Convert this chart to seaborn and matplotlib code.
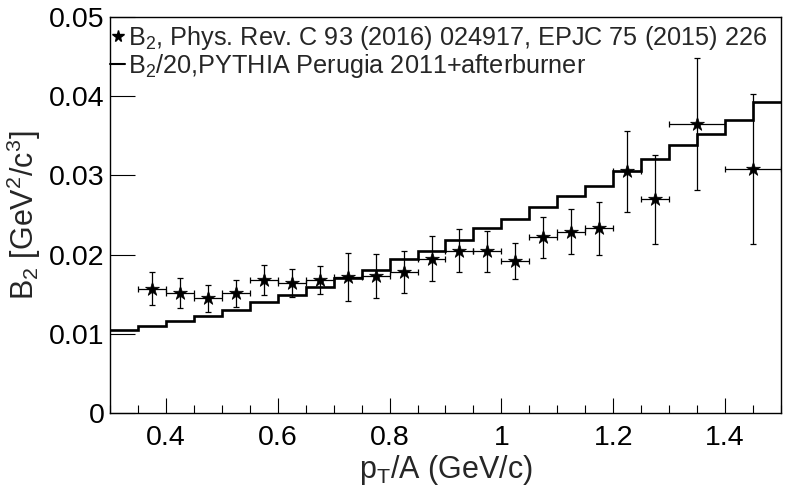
import numpy as np
import matplotlib
matplotlib.use("Agg")
import matplotlib.pyplot as plt
import seaborn as sns
from matplotlib.lines import Line2D
from matplotlib.ticker import MultipleLocator, FuncFormatter

# measured B2 (points)
pt_data = [0.375, 0.425, 0.475, 0.525, 0.575, 0.625, 0.675, 0.725, 0.775, 0.825,
           0.875, 0.925, 0.975, 1.025, 1.075, 1.125, 1.175, 1.225, 1.275, 1.35, 1.45]
pt_halfwidth = [0.025] * 19 + [0.05, 0.05]
b2_data = [0.0157, 0.0152, 0.0145, 0.0151, 0.0168, 0.0164, 0.0168, 0.0172, 0.0173, 0.0178,
           0.0195, 0.0205, 0.0204, 0.0192, 0.0222, 0.0229, 0.0233, 0.0305, 0.0270, 0.0365, 0.0308]
b2_err = [0.0021, 0.0019, 0.0017, 0.0017, 0.0019, 0.0018, 0.0018, 0.0030, 0.0028, 0.0027,
          0.0028, 0.00275, 0.0026, 0.0023, 0.0026, 0.0028, 0.0034, 0.0051, 0.0056, 0.0083, 0.0095]

# PYTHIA histogram (B2/20)
bin_edges = np.round(np.arange(0.30, 1.5001, 0.05), 3)
b2_pythia = [0.0105, 0.0110, 0.0116, 0.0123, 0.0130, 0.0140, 0.0149, 0.0159, 0.0170, 0.0181,
             0.0194, 0.0205, 0.0218, 0.0233, 0.0245, 0.0260, 0.0274, 0.0287, 0.0305, 0.0321,
             0.0338, 0.0352, 0.0370, 0.0393]

sns.set_style("white")
plt.rcParams['font.family'] = ['Liberation Sans', 'DejaVu Sans']
plt.rcParams['mathtext.fontset'] = 'custom'
plt.rcParams['mathtext.rm'] = 'Liberation Sans'
plt.rcParams['mathtext.it'] = 'Liberation Sans:italic'
plt.rcParams['mathtext.default'] = 'regular'

fig = plt.figure(figsize=(7.88, 4.95), dpi=100)
ax = fig.add_axes([0.1396, 0.1657, 0.8515, 0.7998])

ax.stairs(b2_pythia, bin_edges, color='black', linewidth=1.9, baseline=None)

ax.errorbar(pt_data, b2_data, xerr=pt_halfwidth, yerr=b2_err, fmt='none',
            ecolor='black', elinewidth=0.9, capsize=2.2, capthick=0.9)
sns.scatterplot(x=pt_data, y=b2_data, marker='*', s=110, color='black',
                edgecolor='black', linewidth=0.5, ax=ax, zorder=5)

ax.set_xlim(0.3, 1.5)
ax.set_ylim(0, 0.05)
ax.xaxis.set_major_locator(MultipleLocator(0.2))
ax.xaxis.set_minor_locator(MultipleLocator(0.05))
ax.yaxis.set_major_locator(MultipleLocator(0.01))
ax.xaxis.set_major_formatter(FuncFormatter(lambda v, p: f"{v:g}"))
ax.yaxis.set_major_formatter(FuncFormatter(lambda v, p: f"{v:g}"))
ax.tick_params(axis='both', which='both', direction='in', bottom=True, left=True,
               top=False, right=False, labelsize=20.5, colors='black', width=0.8)
ax.tick_params(axis='x', which='major', length=11, pad=9)
ax.tick_params(axis='x', which='minor', length=6)
ax.tick_params(axis='y', which='major', length=18, pad=4)
for sp in ax.spines.values():
    sp.set_color('black')
    sp.set_linewidth(1.0)

ax.set_xlabel('p$_T$/A (GeV/c)', fontsize=22, labelpad=1)
ax.set_ylabel('B$_2$ [GeV$^2$/c$^3$]', fontsize=22, labelpad=4)

handles = [
    Line2D([], [], marker='*', color='black', linestyle='none', markersize=8.5),
    Line2D([], [], color='black', linewidth=1.5),
]
labels = ['B$_2$, Phys. Rev. C 93 (2016) 024917, EPJC 75 (2015) 226',
          'B$_2$/20,PYTHIA Perugia 2011+afterburner']
ax.legend(handles, labels, loc='upper left', bbox_to_anchor=(0.0, 0.983),
          frameon=False, fontsize=18.2, handlelength=0.6, handletextpad=0.1,
          borderaxespad=0.0, labelspacing=0.02, borderpad=0.0)

fig.savefig('out.png', dpi=100)
